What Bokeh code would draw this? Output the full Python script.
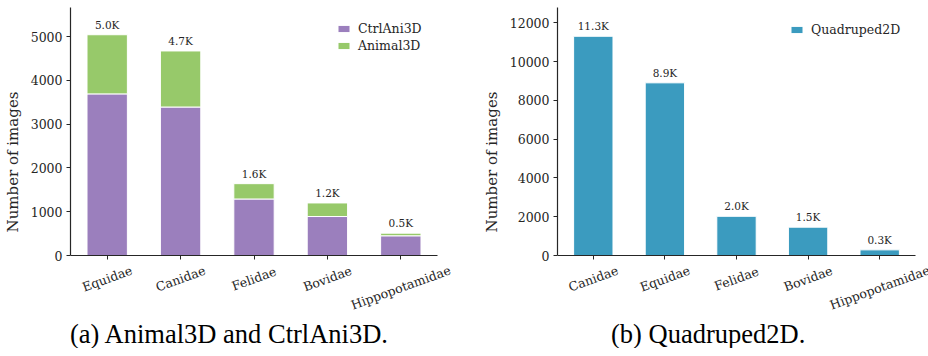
import math
from bokeh.plotting import figure
from bokeh.models import (ColumnDataSource, LabelSet, Legend, LegendItem, Title,
                          Range1d, SingleIntervalTicker, FixedTicker)
from bokeh.core.properties import value
from bokeh.layouts import row
from bokeh.embed import file_html
from bokeh.resources import INLINE

# ---------------- data ----------------
families_a = ["Equidae", "Canidae", "Felidae", "Bovidae", "Hippopotamidae"]
ctrlani3d = [3690, 3390, 1290, 890, 450]
animal3d = [1350, 1280, 350, 310, 60]

families_b = ["Canidae", "Equidae", "Felidae", "Bovidae", "Hippopotamidae"]
quadruped2d = [11300, 8900, 2020, 1460, 290]

caption_a = "(a) Animal3D and CtrlAni3D."
caption_b = "(b) Quadruped2D."
y_label = "Number of images"

# ---------------- style ----------------
FONT = "DejaVu Serif"
CAP_FONT = "Liberation Serif"
TXT = "#262626"
PURPLE = "#9b7fbd"
GREEN = "#97c96a"
BLUE = "#3b9bbf"
H = 348
TOP = 7             # frame top (px)
ZERO = 255          # pixel row of value 0
FRAME_BOTTOM = 316  # frame bottom (px)


def kfmt(v):
    return f"{v / 1000:.1f}K"


def cat_offsets(cats):
    s = math.sin(math.radians(20))
    c = math.cos(math.radians(20))
    return [-(7.5 + (len(t) * 7.4 * s + 14.6 * c) / 2) for t in cats]


def make_fig(cats, units_per_px, interval, width, lb, px_per_cat, caption, cap_off,
             leg_x, leg_center, n_items):
    n = len(cats)
    xs = list(range(n))
    frame_w = width - lb
    ymax = (ZERO - TOP) * units_per_px
    ymin = -(FRAME_BOTTOM - ZERO) * units_per_px
    p = figure(x_range=Range1d(-0.5, -0.5 + frame_w / px_per_cat),
               y_range=Range1d(ymin, ymax),
               width=width, height=H, output_backend="svg", toolbar_location=None,
               min_border_left=lb, min_border_right=0, min_border_top=TOP,
               min_border_bottom=0)
    p.outline_line_color = None
    p.xgrid.visible = False
    p.ygrid.visible = False
    p.yaxis.ticker = SingleIntervalTicker(interval=interval)
    p.yaxis.bounds = (0, ymax)
    p.xaxis.ticker = FixedTicker(ticks=xs)
    p.xaxis.bounds = (-0.5, n - 0.5)
    p.xaxis.fixed_location = 0
    for ax in (p.xaxis[0], p.yaxis[0]):
        ax.axis_line_color = TXT
        ax.axis_line_width = 1.2
        ax.major_tick_line_color = TXT
        ax.major_tick_out = 4
        ax.major_tick_in = 0
        ax.minor_tick_line_color = None
        ax.major_label_text_font = FONT
        ax.major_label_text_font_size = "12.5px"
        ax.major_label_text_color = TXT
        ax.major_label_standoff = 4
    p.xaxis.major_label_text_color = None
    p.xaxis.major_label_text_font_size = "0px"
    p.xaxis.major_label_standoff = 0
    p.yaxis.axis_label = y_label
    p.yaxis.axis_label_text_font = FONT
    p.yaxis.axis_label_text_font_size = "15px"
    p.yaxis.axis_label_text_font_style = "normal"
    p.yaxis.axis_label_text_color = TXT
    p.yaxis.axis_label_standoff = 6

    csrc = ColumnDataSource(dict(x=xs, y=[0] * n, t=cats, off=cat_offsets(cats)))
    p.add_layout(LabelSet(x="x", y="y", text="t", source=csrc, y_offset="off",
                          angle=20, angle_units="deg", text_align="center",
                          text_baseline="middle", text_font=value(FONT),
                          text_font_size=value("12.5px"), text_color=TXT))
    p.add_layout(Title(text=caption, align="left", offset=cap_off, standoff=0,
                       text_font=CAP_FONT, text_font_size="26.5px",
                       text_font_style="normal", text_color="black"), "below")
    row_h, pad, gap = 15, 4, 2
    leg_h = 2 * pad + n_items * row_h + (n_items - 1) * gap
    leg_top = leg_center - row_h / 2 - pad
    leg = Legend(location=(leg_x, FRAME_BOTTOM - (leg_top + leg_h)),
                 border_line_color=None, background_fill_alpha=0, label_text_font=FONT,
                 label_text_font_size="12.5px", label_text_color=TXT,
                 glyph_width=15, glyph_height=9, label_height=row_h, spacing=gap,
                 padding=pad, margin=0, label_standoff=7)
    p.add_layout(leg)
    return p, xs


def value_labels(p, src, ycol):
    p.add_layout(LabelSet(x="x", y=ycol, text="lab", source=src, y_offset=6,
                          text_align="center", text_baseline="alphabetic",
                          text_font=value(FONT), text_font_size=value("10.5px"),
                          text_color=TXT))


# ---------------- panel (a) ----------------
totals_a = [a + b for a, b in zip(ctrlani3d, animal3d)]
pa, xa = make_fig(families_a, 1000 / 43.8, 1000, 460, 70, 73.4, caption_a, -0.5,
                  266, 24, 2)
src_a = ColumnDataSource(dict(x=xa, ctrl=ctrlani3d, tot=totals_a,
                              lab=[kfmt(v) for v in totals_a]))
r1 = pa.vbar(x="x", top="ctrl", bottom=0, width=0.55, source=src_a,
             fill_color=PURPLE, line_color="white", line_width=1)
r2 = pa.vbar(x="x", top="tot", bottom="ctrl", width=0.55, source=src_a,
             fill_color=GREEN, line_color="white", line_width=1)
value_labels(pa, src_a, "tot")
pa.legend[0].items = [LegendItem(label="CtrlAni3D", renderers=[r1]),
                      LegendItem(label="Animal3D", renderers=[r2])]

# ---------------- panel (b) ----------------
pb, xb = make_fig(families_b, 1000 / 19.4, 2000, 468, 97, 71.6, caption_b, 53.5,
                  232, 25, 1)
src_b = ColumnDataSource(dict(x=xb, v=quadruped2d,
                              lab=[kfmt(v) for v in quadruped2d]))
r3 = pb.vbar(x="x", top="v", bottom=0, width=0.55, source=src_b,
             fill_color=BLUE, line_color="white", line_width=1)
value_labels(pb, src_b, "v")
pb.legend[0].items = [LegendItem(label="Quadruped2D", renderers=[r3])]

layout = row(pa, pb)
open("out.html", "w").write(file_html(layout, INLINE))
